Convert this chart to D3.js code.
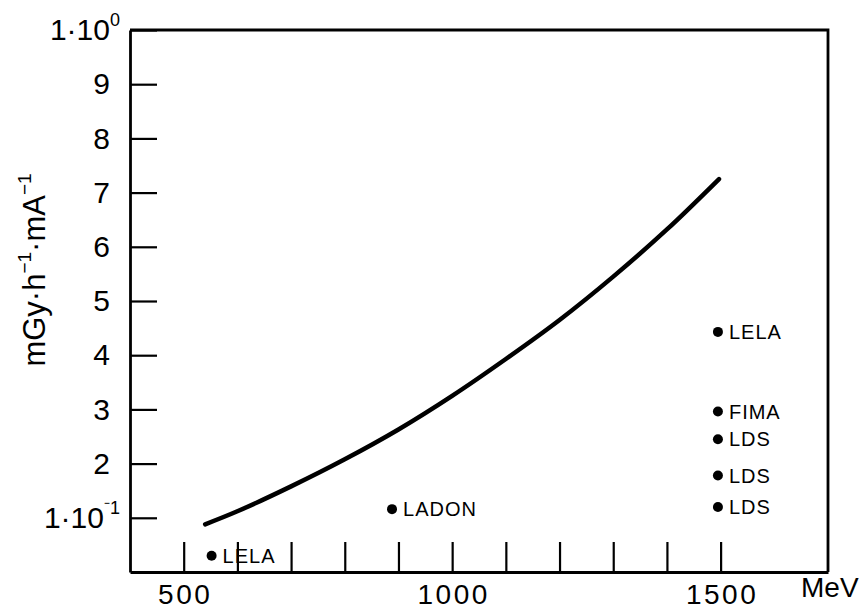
<!DOCTYPE html>
<html>
<head>
<meta charset="utf-8">
<script src="https://cdn.jsdelivr.net/npm/d3@7"></script>
<style>
  body { margin: 0; background: #fff; }
  svg { font-family: "Liberation Sans", Arial, sans-serif; }
</style>
</head>
<body>
<div id="chart"></div>
<script>
// curve: dose rate vs electron energy
const curveEnergy = [540, 600, 700, 800, 900, 1000, 1100, 1200, 1300, 1400, 1497];
const curveDose = [0.088, 0.112, 0.158, 0.208, 0.263, 0.325, 0.393, 0.465, 0.545, 0.632, 0.725];

// measured machines
const pointNames = ['LELA', 'LADON', 'LELA', 'FIMA', 'LDS', 'LDS', 'LDS'];
const pointEnergy = [552, 888, 1495, 1495, 1495, 1495, 1495];
const pointDose = [0.030, 0.116, 0.443, 0.296, 0.245, 0.178, 0.12];

const xTicks = [500, 600, 700, 800, 900, 1000, 1100, 1200, 1300, 1400, 1500];
const xTickLabels = [500, 1000, 1500];
const yTicks = [0.1, 0.2, 0.3, 0.4, 0.5, 0.6, 0.7, 0.8, 0.9, 1.0];

const width = 866, height = 611;
const margin = { top: 30, right: 38, bottom: 39, left: 130 };

const svg = d3.select('#chart').append('svg')
  .attr('width', width)
  .attr('height', height);

const x = d3.scaleLinear().domain([400, 1700]).range([margin.left, width - margin.right]);
const y = d3.scaleLinear().domain([0, 1]).range([height - margin.bottom, margin.top]);

const isPow = d => d === 1 || Math.abs(d - 0.1) < 1e-9;

// frame (top + right)
svg.append('path')
  .attr('d', `M${x(400)},${y(1)}H${x(1700)}V${y(0)}`)
  .attr('fill', 'none')
  .attr('stroke', '#000')
  .attr('stroke-width', 2.8);

// x axis, ticks pointing up
const xAxis = svg.append('g')
  .attr('transform', `translate(0,${y(0)})`)
  .call(d3.axisBottom(x)
    .tickValues(xTicks)
    .tickSize(-30)
    .tickSizeOuter(0)
    .tickPadding(12)
    .tickFormat(d => xTickLabels.includes(d) ? d : ''));

// y axis, ticks pointing right
const yAxis = svg.append('g')
  .attr('transform', `translate(${x(400)},0)`)
  .call(d3.axisLeft(y)
    .tickValues(yTicks)
    .tickSize(-27)
    .tickSizeOuter(0)
    .tickPadding(20)
    .tickFormat(d => isPow(d) ? '1·10' : Math.round(d * 10)));

[xAxis, yAxis].forEach(g => {
  g.selectAll('.domain').attr('stroke-width', 2.8);
  g.selectAll('.tick line').attr('stroke-width', 2.2);
  g.selectAll('text')
    .attr('font-family', '"Liberation Sans", Arial, sans-serif')
    .attr('font-size', 30)
    .attr('fill', '#000');
});
xAxis.selectAll('text').attr('font-size', 28).attr('letter-spacing', 2.5).attr('dx', 1);

// superscript exponents on 1·10 labels
yAxis.selectAll('.tick')
  .filter(isPow)
  .select('text')
  .attr('dx', 10)
  .append('tspan')
  .attr('font-size', 18)
  .attr('dy', -14)
  .text(d => d === 1 ? '0' : '⁻1');

// axis titles
svg.append('text')
  .attr('x', 801)
  .attr('y', 597)
  .attr('font-size', 28)
  .text('MeV');

const yTitle = svg.append('text')
  .attr('transform', 'translate(45,270) rotate(-90)')
  .attr('text-anchor', 'middle')
  .attr('font-size', 31);
yTitle.append('tspan').text('mGy·h');
yTitle.append('tspan').attr('font-size', 19).attr('dy', -14).text('−1');
yTitle.append('tspan').attr('dy', 14).text('·mA');
yTitle.append('tspan').attr('font-size', 19).attr('dy', -14).text('−1');

// curve
const curve = curveEnergy.map((e, i) => [e, curveDose[i]]);
svg.append('path')
  .datum(curve)
  .attr('fill', 'none')
  .attr('stroke', '#000')
  .attr('stroke-width', 4.5)
  .attr('stroke-linecap', 'round')
  .attr('d', d3.line().x(d => x(d[0])).y(d => y(d[1])).curve(d3.curveCatmullRom));

// points + labels
const pts = pointNames.map((n, i) => ({ name: n, e: pointEnergy[i], v: pointDose[i] }));
const pg = svg.append('g').selectAll('g').data(pts).enter().append('g');
pg.append('circle')
  .attr('cx', d => x(d.e))
  .attr('cy', d => y(d.v))
  .attr('r', 5)
  .attr('fill', '#000');
pg.append('text')
  .attr('x', d => x(d.e) + 11)
  .attr('y', d => y(d.v))
  .attr('dy', '0.36em')
  .attr('font-size', 20)
  .attr('letter-spacing', 1)
  .text(d => d.name);
</script>
</body>
</html>
